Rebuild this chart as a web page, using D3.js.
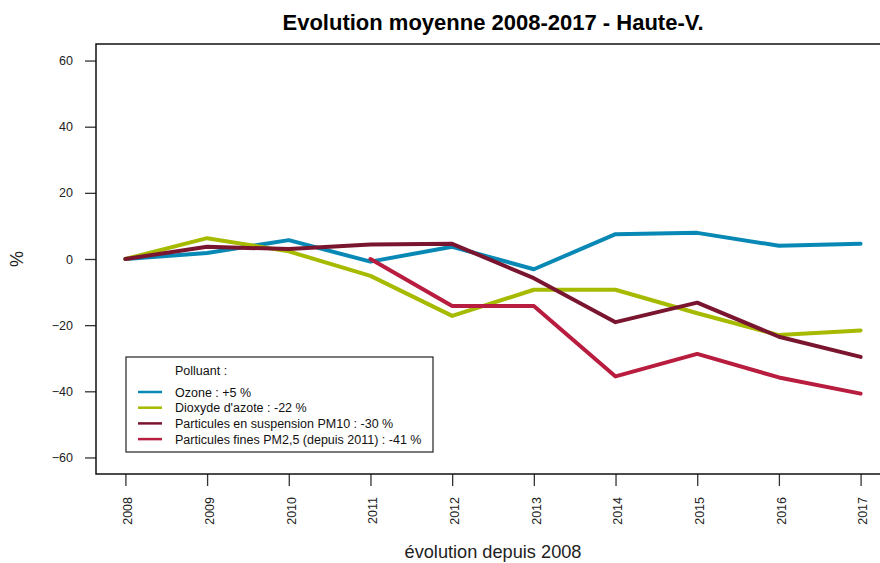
<!DOCTYPE html>
<html>
<head>
<meta charset="utf-8">
<script src="https://cdn.jsdelivr.net/npm/d3@7/dist/d3.min.js"></script>
<style>
  html, body { margin: 0; padding: 0; background: #fff; }
  svg { display: block; font-family: "Liberation Sans", Arial, sans-serif; }
</style>
</head>
<body>
<svg id="chart" width="880" height="563"></svg>
<script>
// Years on the x axis
const years = [2008, 2009, 2010, 2011, 2012, 2013, 2014, 2015, 2016, 2017];
// Mean change since the reference year, in %
const ozone = [0, 1.8, 5.7, -0.8, 3.7, -3.1, 7.5, 7.9, 4.0, 4.6];
const dioxydeAzote = [0, 6.3, 2.3, -5.1, -17.2, -9.3, -9.3, -16.4, -23.0, -21.6];
const pm10 = [0, 3.7, 3.0, 4.4, 4.6, -5.8, -19.1, -13.2, -23.5, -29.6];
const pm25 = [null, null, null, 0, -14.2, -14.2, -35.5, -28.7, -35.8, -40.7];
const yTicks = [-60, -40, -20, 0, 20, 40, 60];
const seriesNames = [
  "Ozone : +5 %",
  "Dioxyde d'azote : -22 %",
  "Particules en suspension PM10 : -30 %",
  "Particules fines PM2,5 (depuis 2011) : -41 %"
];
const seriesColors = ["#0888b4", "#a6ba00", "#7a1530", "#b81c3e"];

const series = [ozone, dioxydeAzote, pm10, pm25].map((vals, i) => ({
  name: seriesNames[i],
  color: seriesColors[i],
  points: years.map((y, j) => ({ year: y, value: vals[j] }))
}));

const svg = d3.select("#chart");
const plot = { left: 96, right: 890, top: 44, bottom: 474 };

const x = d3.scaleLinear().domain([2007.64, 2017.36]).range([plot.left, plot.right]);
const y = d3.scaleLinear().domain([-65, 65]).range([plot.bottom, plot.top]);

// Title
svg.append("text")
  .attr("x", (plot.left + plot.right) / 2)
  .attr("y", 30)
  .attr("text-anchor", "middle")
  .attr("font-size", 22)
  .attr("font-weight", "bold")
  .attr("fill", "#000")
  .text("Evolution moyenne 2008-2017 - Haute-V.");

// Series lines
const line = d3.line()
  .defined(d => d.value !== null)
  .x(d => x(d.year))
  .y(d => y(d.value));

svg.append("g")
  .selectAll("path")
  .data(series)
  .join("path")
  .attr("d", d => line(d.points))
  .attr("fill", "none")
  .attr("stroke", d => d.color)
  .attr("stroke-width", 4)
  .attr("stroke-linejoin", "round")
  .attr("stroke-linecap", "round");

// Y axis
const yAxis = svg.append("g")
  .attr("transform", `translate(${plot.left},0)`)
  .call(d3.axisLeft(y).tickValues(yTicks).tickSize(11).tickPadding(12).tickFormat(d3.format("d")));
yAxis.select(".domain").remove();
yAxis.selectAll(".tick line").attr("stroke", "#333").attr("stroke-width", 1.3);
yAxis.selectAll(".tick text")
  .attr("font-size", 12.5)
  .attr("fill", "#222")
  .attr("font-family", "'Liberation Sans', Arial, sans-serif");

// X axis
const xAxis = svg.append("g")
  .attr("transform", `translate(0,${plot.bottom})`)
  .call(d3.axisBottom(x).tickValues(years).tickSize(12).tickFormat(d3.format("d")));
xAxis.select(".domain").remove();
xAxis.selectAll(".tick line").attr("stroke", "#333").attr("stroke-width", 1.3);
xAxis.selectAll(".tick text")
  .attr("font-size", 12.5)
  .attr("fill", "#222")
  .attr("font-family", "'Liberation Sans', Arial, sans-serif")
  .attr("text-anchor", "end")
  .attr("transform", "translate(2,23) rotate(-90)")
  .attr("x", 0)
  .attr("y", 0)
  .attr("dy", "0.35em");

// Plot frame
svg.append("rect")
  .attr("x", plot.left)
  .attr("y", plot.top)
  .attr("width", plot.right - plot.left)
  .attr("height", plot.bottom - plot.top)
  .attr("fill", "none")
  .attr("stroke", "#111")
  .attr("stroke-width", 1.5);

// Axis titles
svg.append("text")
  .attr("x", (plot.left + plot.right) / 2)
  .attr("y", 558)
  .attr("text-anchor", "middle")
  .attr("font-size", 18.2)
  .attr("fill", "#222")
  .text("évolution depuis 2008");

svg.append("text")
  .attr("transform", `translate(23,${y(0)}) rotate(-90)`)
  .attr("text-anchor", "middle")
  .attr("font-size", 18)
  .attr("fill", "#222")
  .text("%");

// Legend
const legend = svg.append("g").attr("transform", "translate(126,357)");
legend.append("rect")
  .attr("width", 307)
  .attr("height", 95)
  .attr("fill", "#fff")
  .attr("stroke", "#222")
  .attr("stroke-width", 1.2);
legend.append("text")
  .attr("x", 49)
  .attr("y", 18)
  .attr("font-size", 12.5)
  .attr("fill", "#111")
  .text("Polluant :");
const rows = legend.selectAll("g.row")
  .data(series)
  .join("g")
  .attr("class", "row")
  .attr("transform", (d, i) => `translate(0,${35 + i * 15.7})`);
rows.append("line")
  .attr("x1", 12).attr("x2", 36)
  .attr("stroke", d => d.color)
  .attr("stroke-width", 2.5);
rows.append("text")
  .attr("x", 49)
  .attr("dy", "0.36em")
  .attr("font-size", 12.5)
  .attr("fill", "#111")
  .text(d => d.name);
</script>
</body>
</html>
